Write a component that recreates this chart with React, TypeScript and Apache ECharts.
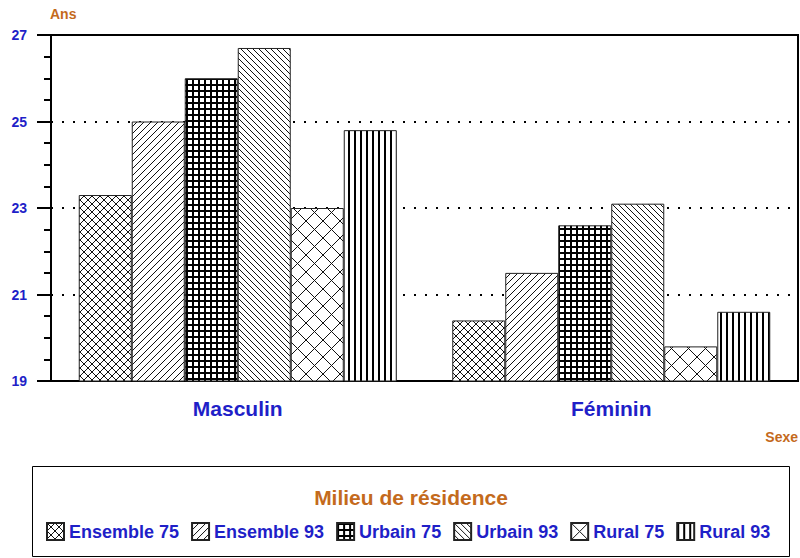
import React, { useEffect, useRef } from "react";
import * as echarts from "echarts";

const categories = ["Masculin", "Féminin"];
const seriesNames = ["Ensemble 75", "Ensemble 93", "Urbain 75", "Urbain 93", "Rural 75", "Rural 93"];
const ensemble75 = [23.3, 20.4];
const ensemble93 = [25.0, 21.5];
const urbain75 = [26.0, 22.6];
const urbain93 = [26.7, 23.1];
const rural75 = [23.0, 19.8];
const rural93 = [24.8, 20.6];
const yMin = 19;
const yMax = 27;
const yStep = 2;
const yName = "Ans";
const xName = "Sexe";
const legendTitle = "Milieu de résidence";

const BLUE = "#1f1fc8";
const ORANGE = "#c46a1c";
const FONT = "'Liberation Sans', Arial, sans-serif";

type Kind = "cross" | "slash" | "grid" | "backslash" | "vert";
const patternStyles: { kind: Kind; p: number; lw: number; color: string }[] = [
  { kind: "cross", p: 8, lw: 1, color: "#111" },
  { kind: "slash", p: 7, lw: 1, color: "#111" },
  { kind: "grid", p: 6, lw: 2, color: "#000" },
  { kind: "backslash", p: 6, lw: 1, color: "#111" },
  { kind: "cross", p: 17, lw: 1, color: "#111" },
  { kind: "vert", p: 6, lw: 2, color: "#000" },
];

function makePattern(kind: Kind, p: number, lw: number, color: string) {
  const c = document.createElement("canvas");
  c.width = p;
  c.height = p;
  const g = c.getContext("2d")!;
  g.fillStyle = "#fff";
  g.fillRect(0, 0, p, p);
  g.strokeStyle = color;
  g.fillStyle = color;
  g.lineWidth = lw;
  const slash = () => {
    for (const o of [-p, 0, p]) {
      g.beginPath();
      g.moveTo(o - 1, p + 1);
      g.lineTo(o + p + 1, -1);
      g.stroke();
    }
  };
  const back = () => {
    for (const o of [-p, 0, p]) {
      g.beginPath();
      g.moveTo(o - 1, -1);
      g.lineTo(o + p + 1, p + 1);
      g.stroke();
    }
  };
  if (kind === "cross") {
    slash();
    back();
  } else if (kind === "slash") slash();
  else if (kind === "backslash") back();
  else if (kind === "grid") {
    g.fillRect(0, 0, lw, p);
    g.fillRect(0, 0, p, lw);
  } else if (kind === "vert") {
    g.fillRect(0, 0, lw, p);
  }
  return { image: c, repeat: "repeat", imageWidth: p, imageHeight: p };
}

export default function App() {
  const ref = useRef<HTMLDivElement>(null);
  useEffect(() => {
    if (!ref.current) return;
    const chart = echarts.init(ref.current, null, { renderer: "svg" });
    const values = [ensemble75, ensemble93, urbain75, urbain93, rural75, rural93];
    const patterns = patternStyles.map((s) => makePattern(s.kind, s.p, s.lw, s.color));
    chart.setOption({
      animation: false,
      backgroundColor: "#fff",
      grid: {
        left: 51,
        right: 2,
        top: 35,
        bottom: 177,
        show: true,
        borderColor: "#000",
        borderWidth: 2,
        backgroundColor: "transparent",
        containLabel: false,
        outerBoundsMode: "none",
      },
      xAxis: {
        type: "category",
        data: categories,
        axisLine: { lineStyle: { color: "#000", width: 2 } },
        axisTick: { alignWithLabel: true, length: 8, lineStyle: { color: "#000", width: 2 } },
        axisLabel: { color: BLUE, fontSize: 21, fontWeight: "bold", fontFamily: FONT, margin: 17 },
        splitLine: { show: false },
      },
      yAxis: {
        type: "value",
        min: yMin,
        max: yMax,
        interval: yStep,
        axisLine: { show: true, lineStyle: { color: "#000", width: 2 } },
        axisTick: { show: true, length: 14, lineStyle: { color: "#000", width: 2 } },
        minorTick: { show: true, splitNumber: 4, length: 7, lineStyle: { color: "#000", width: 2 } },
        axisLabel: { color: BLUE, fontSize: 14, fontWeight: "bold", fontFamily: FONT, margin: 24 },
        splitLine: { show: true, lineStyle: { color: "#000", width: 2, type: [2, 9] } },
      },
      legend: {
        data: seriesNames,
        left: 46,
        top: 522,
        padding: 0,
        itemWidth: 17,
        itemHeight: 17,
        itemGap: 12,
        icon: "rect",
        selectedMode: false,
        textStyle: { color: BLUE, fontSize: 18, fontWeight: "bold", fontFamily: FONT },
      },
      graphic: [
        {
          type: "rect",
          shape: { x: 32.5, y: 466.5, width: 757, height: 90 },
          style: { fill: "none", stroke: "#000", lineWidth: 1 },
        },
        {
          type: "text",
          x: 411,
          y: 497,
          style: {
            text: legendTitle,
            fill: ORANGE,
            font: `bold 21px ${FONT}`,
            textAlign: "center",
            textVerticalAlign: "middle",
          },
        },
        {
          type: "text",
          x: 50,
          y: 14,
          style: {
            text: yName,
            fill: ORANGE,
            font: `bold 14px ${FONT}`,
            textAlign: "left",
            textVerticalAlign: "middle",
          },
        },
        {
          type: "text",
          x: 798,
          y: 437,
          style: {
            text: xName,
            fill: ORANGE,
            font: `bold 14px ${FONT}`,
            textAlign: "right",
            textVerticalAlign: "middle",
          },
        },
      ],
      series: values.map((d, i) => ({
        type: "bar",
        name: seriesNames[i],
        data: d,
        barWidth: 53,
        barGap: "0%",
        itemStyle: { color: patterns[i], borderColor: "#222", borderWidth: 1 },
        emphasis: { disabled: true },
      })),
    });
    return () => chart.dispose();
  }, []);
  return (
    <div
      ref={ref}
      style={{ position: "fixed", left: 0, top: 0, width: 800, height: 558 }}
    />
  );
}
